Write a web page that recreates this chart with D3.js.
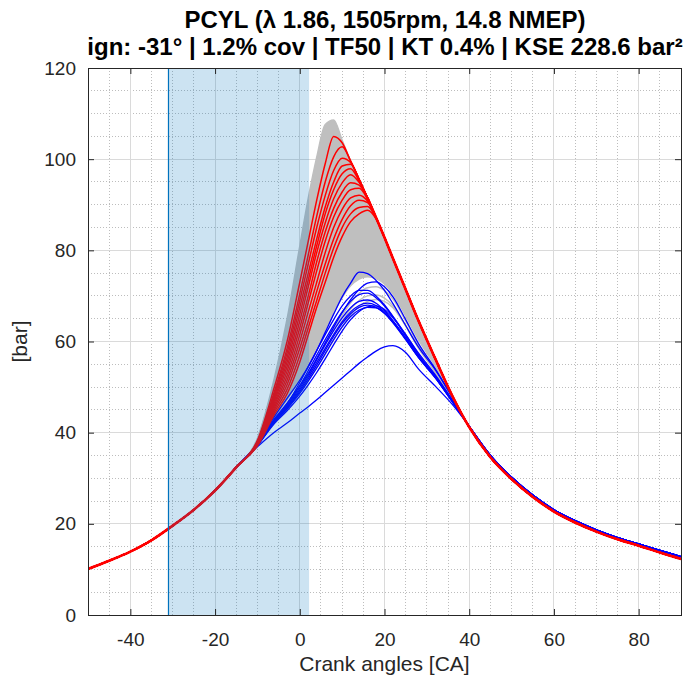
<!DOCTYPE html>
<html>
<head>
<meta charset="utf-8">
<script src="https://cdn.jsdelivr.net/npm/d3@7"></script>
<style>
	body{margin:0;background:#fff}
	svg{display:block;font-family:"Liberation Sans",Arial,Helvetica,sans-serif}
</style>
</head>
<body>
<svg id="chart" width="687" height="682"></svg>
<script>
// shared compression stroke (all cycles identical here)
const motorX = [-50,-45,-40,-35,-30,-25,-20,-15]
const motorP = [10.1,11.9,13.9,16.4,19.6,23.1,27.3,32.4]

// combustion window, crank angles where each cycle is read
const winX = [-10,-6,-3,0,2,4,6,8,10,12,14,16,18,20,22,25,28,32,36,40]

// common falling edge the fast cycles land on
const envX = [10,12,14,16,18,20,22,25,28,32,36,40]
const envP = [103.6,99.6,95.6,91.5,87.2,82.8,78.2,71.4,64.6,56.2,48.1,41.2]

// expansion tail
const tailX = [45,50,55,60,65,70,75,80,85,90]
const tailRed = [34.6,29.8,25.9,22.7,20.3,18.3,16.6,15.2,13.7,12.3]
const tailBlue = [35.0,30.2,26.3,23.1,20.7,18.7,17.0,15.6,14.2,12.8]

// gray cloud of all cycles: upper edge (rise part), lower edge of the dense band, a few loose cycles
const grayTopRise = [38.8,52,65,81,91.5,100.5,107.6,108.6,104.2]
const grayLow = [37.5,43.3,47.3,51.5,54.6,58.2,62.2,66.2,69.6,72.2,73.7,74.2,73.8,72.6,70.4,65.6,60.4,54.6,47.9,41.2]
const grayCycles = [
	[37.4,42.8,46.2,50,52.7,55.8,59.2,62.6,65.7,68.5,70.6,71.8,72,71.2,69.3,64.5,59.3,53.8,47.5,41.2],
	[37.3,42.6,45.9,49.5,52.1,55.1,58.3,61.5,64.5,67.1,69,70,70.2,69.5,67.8,63.5,58.6,53.3,47.3,41.2],
	[37.3,42.4,45.5,48.9,51.4,54.2,57.2,60.3,63.2,65.8,67.7,68.8,69.2,68.8,67.4,63.4,58.6,53.2,47.2,41.2]
]

// fastest cycles (red): rise until they reach the falling edge
const redRises = [
	[38.3,50,60,73,82,91,99,105],
	[38.1,49,58.5,70.5,79,87.5,95,100.5,102.7],
	[38,48.5,57.5,69,77,85,92,97.5,100.2,99.3],
	[37.9,48,56.5,67.5,75,82.5,89.5,95,98.5,98.9],
	[37.8,47.5,55.5,66,73.5,81,88,93.3,96.8,97.9,95.2],
	[37.7,47,54.5,64.5,72,79.5,86,91.3,94.8,96.6,94.9],
	[37.6,46.5,53.5,63,70,77.5,84,89.2,92.8,94.8,94.3],
	[37.5,46,52.5,61.5,68.5,75.5,82,87.3,91,93.3,93.6,91.2],
	[37.4,45.5,51.5,60,66.5,73,79.5,85,89,91.5,92.1,90.8],
	[37.3,45,50.5,58.5,64.5,71,77,82.5,86.8,89.8,91,90.5],
	[37.2,44.5,49.5,57,63,69,75,80.5,85,88,89.4,89.6,87],
	[37.1,44,48.5,55.5,61.5,67.5,73,78.5,83,86.3,88,88.8,86.9]
]

// slowest cycles (blue)
const blueCycles = [
	[37.5,43.5,47.5,51.5,54.5,58,62,66,69.8,72.8,75.2,74.9,73.4,71.2,68.3,63.5,58.8,53.8,47.8,41.4],
	[37.4,43,46.5,50.3,53,56.3,59.7,63.1,66.3,69.2,71.4,72.8,73.1,72,69.8,64.8,59.6,54,47.8,41.4],
	[37.4,42.8,46.3,51,54.5,58,61.5,64.8,67.8,70,71.2,71.2,70,68,65.5,61.5,57.5,52.7,47.2,41.4],
	[37.3,42.6,46,50.3,53.6,57,60.4,63.6,66.5,68.8,70.3,70.6,69.6,67.8,65.4,61.2,57,52.4,47,41.4],
	[37.3,42.5,45.8,49.8,52.8,56,59.3,62.4,65.2,67.4,68.8,69.1,68.4,66.8,64.6,60.8,56.8,52.2,46.9,41.4],
	[37.3,42.4,45.6,49.4,52.3,55.4,58.5,61.5,64.3,66.5,67.9,68.4,67.9,66.5,64.4,60.6,56.6,52.1,46.8,41.4],
	[37.2,42.3,45.4,49,51.8,54.8,58,61.1,63.9,66.1,67.5,68,67.5,66.2,64.1,60.4,56.5,52,46.8,41.4],
	[37.2,42.2,45.2,48.6,51.3,54.2,57.3,60.4,63.2,65.5,66.9,67.5,67.4,66.2,64.2,60.5,56.6,52.1,46.8,41.4],
	[37.2,42,44.8,48,50.5,53.2,56.2,59.3,62.3,64.8,66.6,67.6,67.8,67,65.2,61.5,57.2,52.4,47,41.4],
	[36.9,40.1,42.1,44.3,45.7,47.2,48.8,50.4,52,53.6,55.2,56.6,57.9,58.8,59.1,57.6,54,50.2,46.2,41.4]
]

const ignAngle = -31, burnWindowEnd = 2.2
const xTicks = [-40,-20,0,20,40,60,80], yTicks = [0,20,40,60,80,100,120]
const titleLines = ["PCYL (λ 1.86, 1505rpm, 14.8 NMEP)", "ign: -31° | 1.2% cov | TF50 | KT 0.4% | KSE 228.6 bar²"]

const box = {left: 88, right: 681, top: 68, bottom: 615},
ink = "#262626"
const x = d3.scaleLinear().domain([-50, 90]).range([box.left, box.right]),
y = d3.scaleLinear().domain([0, 120]).range([box.bottom, box.top])

const withEnvelope = rise => winX.map((a,i) => i < rise.length ? rise[i] : envP[envX.indexOf(a)])
const fullCycle = (win, tail) => motorX.map((a,i) => [a, motorP[i]])
	.concat(winX.map((a,i) => [a, win[i]]))
	.concat(tailX.map((a,i) => [a, tail[i]]))

const svg = d3.select("#chart")
svg.append("defs").append("clipPath").attr("id", "plotClip")
	.append("rect")
	.attr("x", box.left).attr("y", box.top)
	.attr("width", box.right - box.left).attr("height", box.bottom - box.top)

// grid
const grid = svg.append("g").attr("shape-rendering", "crispEdges")
const minorX = d3.range(-45, 90, 5).filter(v => v % 20 != 0),
minorY = d3.range(5, 120, 5).filter(v => v % 20 != 0)
grid.selectAll(".minorX").data(minorX).enter().append("line")
	.attr("x1", d => x(d)).attr("x2", d => x(d)).attr("y1", box.top).attr("y2", box.bottom)
	.attr("stroke", "#bdbdbd").attr("stroke-dasharray", "1,2")
grid.selectAll(".minorY").data(minorY).enter().append("line")
	.attr("y1", d => y(d)).attr("y2", d => y(d)).attr("x1", box.left).attr("x2", box.right)
	.attr("stroke", "#bdbdbd").attr("stroke-dasharray", "1,2")
grid.selectAll(".majorX").data(xTicks).enter().append("line")
	.attr("x1", d => x(d)).attr("x2", d => x(d)).attr("y1", box.top).attr("y2", box.bottom)
	.attr("stroke", "#dadada")
grid.selectAll(".majorY").data(yTicks.slice(1, -1)).enter().append("line")
	.attr("y1", d => y(d)).attr("y2", d => y(d)).attr("x1", box.left).attr("x2", box.right)
	.attr("stroke", "#dadada")

// cycles
const plot = svg.append("g").attr("clip-path", "url(#plotClip)")
const line = d3.line().x(d => x(d[0])).y(d => y(d[1])).curve(d3.curveMonotoneX)
const grayTop = withEnvelope(grayTopRise)

plot.append("path")
	.datum(winX.map((a,i) => [a, grayTop[i], grayLow[i]]))
	.attr("d", d3.area().x(d => x(d[0])).y0(d => y(d[2])).y1(d => y(d[1])).curve(d3.curveMonotoneX))
	.attr("fill", "#bfbfbf")
plot.selectAll(".grayEdge").data([grayTop, grayLow].concat(grayCycles)).enter().append("path")
	.attr("d", d => line(fullCycle(d, tailRed)))
	.attr("fill", "none").attr("stroke", "#bfbfbf").attr("stroke-width", 1.4)

plot.selectAll(".blue").data(blueCycles).enter().append("path")
	.attr("d", d => line(fullCycle(d, tailBlue)))
	.attr("fill", "none").attr("stroke", "#0000ff").attr("stroke-width", 1.3)

plot.selectAll(".red").data(redRises).enter().append("path")
	.attr("d", d => line(fullCycle(withEnvelope(d), tailRed)))
	.attr("fill", "none").attr("stroke", "#ff0000").attr("stroke-width", 1.5)
// where all red cycles lie on top of each other the trace reads thicker
const redShared = [motorX.map((a,i) => [a, motorP[i]]),
	envX.map((a,i) => [a, envP[i]]).filter(d => d[0] >= 16).concat(tailX.map((a,i) => [a, tailRed[i]]))]
plot.selectAll(".redShared").data(redShared).enter().append("path")
	.attr("d", line).attr("fill", "none").attr("stroke", "#ff0000").attr("stroke-width", 2.6)

// burn window shading + ignition line
plot.append("rect")
	.attr("x", x(ignAngle)).attr("y", box.top)
	.attr("width", x(burnWindowEnd) - x(ignAngle)).attr("height", box.bottom - box.top)
	.attr("fill", "#0072bd").attr("fill-opacity", 0.2)
plot.append("line")
	.attr("x1", x(ignAngle)).attr("x2", x(ignAngle)).attr("y1", box.top).attr("y2", box.bottom)
	.attr("stroke", "#0072bd").attr("stroke-width", 1.2)

// axes, ticks inside like matlab
const styleAxis = g => g.attr("color", ink).attr("font-family", null).attr("font-size", 19)
	.call(g => g.select(".domain").remove())
svg.append("g").attr("transform", `translate(0,${box.bottom})`)
	.call(d3.axisBottom(x).tickValues(xTicks).tickSizeInner(-6).tickSizeOuter(0).tickPadding(18).tickFormat(d => String(d)))
	.call(styleAxis)
svg.append("g").attr("transform", `translate(0,${box.top})`)
	.call(d3.axisTop(x).tickValues(xTicks).tickSizeInner(-6).tickSizeOuter(0).tickFormat(""))
	.call(styleAxis)
svg.append("g").attr("transform", `translate(${box.left},0)`)
	.call(d3.axisLeft(y).tickValues(yTicks).tickSizeInner(-6).tickSizeOuter(0).tickPadding(12).tickFormat(d => String(d)))
	.call(styleAxis)
svg.append("g").attr("transform", `translate(${box.right},0)`)
	.call(d3.axisRight(y).tickValues(yTicks).tickSizeInner(-6).tickSizeOuter(0).tickFormat(""))
	.call(styleAxis)
svg.append("rect")
	.attr("x", box.left).attr("y", box.top)
	.attr("width", box.right - box.left).attr("height", box.bottom - box.top)
	.attr("fill", "none").attr("stroke", ink).attr("stroke-width", 1)
	.attr("shape-rendering", "crispEdges")

// labels
svg.append("text")
	.attr("x", (box.left + box.right) / 2).attr("y", 671)
	.attr("text-anchor", "middle").attr("font-size", 21).attr("fill", ink)
	.text("Crank angles [CA]")
svg.append("text")
	.attr("transform", `translate(27,${(box.top + box.bottom) / 2}) rotate(-90)`)
	.attr("text-anchor", "middle").attr("font-size", 21).attr("fill", ink)
	.text("[bar]")
svg.selectAll(".title").data(titleLines).enter().append("text")
	.attr("x", 385).attr("y", (d,i) => 28 + i * 27)
	.attr("text-anchor", "middle").attr("font-size", 24).attr("font-weight", "bold").attr("fill", "#000")
	.text(d => d)
</script>
</body>
</html>
